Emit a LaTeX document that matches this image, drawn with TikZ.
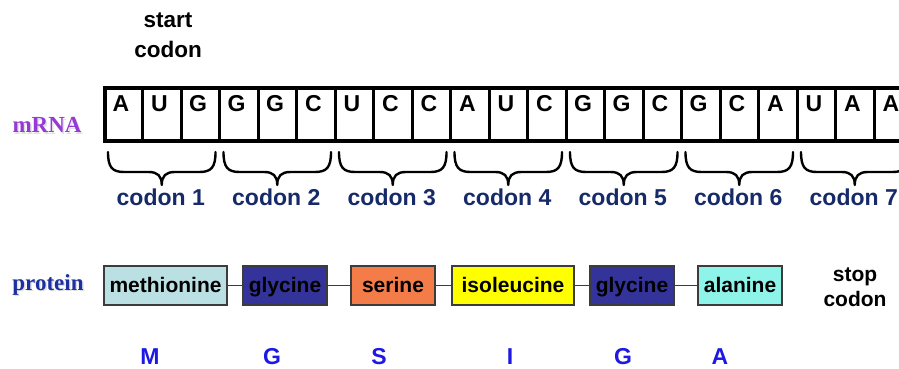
\documentclass[tikz,border=0pt]{standalone}
\usepackage{fontspec}
\setmainfont{Liberation Sans}
\newfontfamily\serifbold{Liberation Serif}
\definecolor{rnapurple}{RGB}{150,58,214}
\definecolor{protblue}{RGB}{28,48,160}
\definecolor{codonnavy}{RGB}{22,42,105}
\definecolor{letterblue}{RGB}{30,24,228}
\definecolor{boxedge}{RGB}{60,60,60}
\definecolor{metfill}{RGB}{186,224,228}
\definecolor{glyfill}{RGB}{51,51,153}
\definecolor{serfill}{RGB}{244,124,72}
\definecolor{ilefill}{RGB}{255,255,0}
\definecolor{alafill}{RGB}{142,244,234}
\tikzset{
  base/.style={font=\fontsize{23}{27}\selectfont\bfseries, inner sep=0pt},
  bigtext/.style={base, align=center, font=\fontsize{22.5}{30}\selectfont\bfseries},
  sidelabel/.style={inner sep=0pt, font=\fontsize{23}{27}\selectfont\serifbold\bfseries},
  codonlabel/.style={base, text=codonnavy},
  onecode/.style={base, text=letterblue},
  aabox/.style={draw=boxedge, line width=1.3pt, minimum height=39pt, inner sep=0pt,
    text height=17pt, text depth=4pt,
    font=\fontsize{21}{24}\selectfont\bfseries},
  link/.style={draw=boxedge, line width=1.2pt},
  bracepath/.style={line width=2.4pt, line cap=round, line join=round},
}
\begin{document}
\begin{tikzpicture}[x=1pt, y=-1pt]
\useasboundingbox (0,0) rectangle (899,368);
\clip (0,0) rectangle (899,368);

% start codon caption
\node[bigtext] (start) at (168,35) {start\\codon};

% side labels with a faint soft shadow
\node[sidelabel, text=black!12] at (48.5,126.5) {mRNA};
\node[sidelabel, text=rnapurple] (mrna) at (47,125) {mRNA};
\node[sidelabel, text=black!12] at (49.5,286) {protein};
\node[sidelabel, text=protblue] (protein) at (48,284.5) {protein};

% mRNA strip: outer frame and cell dividers
\draw[line width=4pt] (930,88) -- (105,88) -- (105,140.5) -- (930,140.5);
\foreach \k in {1,...,21} {
  \draw[line width=3pt] ({104+38.5*\k},88) -- ({104+38.5*\k},140.5);
}
% bases
\foreach \b [count=\i from 0] in {A,U,G,G,G,C,U,C,C,A,U,C,G,G,C,G,C,A,U,A,A} {
  \node[base, text height=17pt, text depth=0pt] (base\i) at ({104+38.5*\i+17},103) {\b};
}

% braces and codon labels
\foreach \k in {1,...,7} {
  \pgfmathsetmacro{\xa}{104+115.5*(\k-1)+4}
  \pgfmathsetmacro{\xb}{104+115.5*\k-4}
  \pgfmathsetmacro{\xm}{104+115.5*\k-57.75}
  \draw[bracepath] (\xa,152) .. controls (\xa,167) and (\xa+4,172) .. (\xa+16,172)
    -- (\xm-13,172) .. controls (\xm-4,172) and (\xm,176) .. (\xm,185)
    .. controls (\xm,176) and (\xm+4,172) .. (\xm+13,172)
    -- (\xb-16,172) .. controls (\xb-4,172) and (\xb,167) .. (\xb,152);
  \node[codonlabel] (codon\k) at (\xm-1,197) {codon \k};
}

% amino acid chain
\node[aabox, fill=metfill, minimum width=123pt] (met) at (165.5,285.5) {methionine};
\node[aabox, fill=glyfill, minimum width=84pt] (gly1) at (285,285.5) {glycine};
\node[aabox, fill=serfill, minimum width=84pt] (ser) at (393,285.5) {serine};
\node[aabox, fill=ilefill, minimum width=122pt] (ile) at (513,285.5) {isoleucine};
\node[aabox, fill=glyfill, minimum width=84pt] (gly2) at (632,285.5) {glycine};
\node[aabox, fill=alafill, minimum width=84pt] (ala) at (740,285.5) {alanine};
\node[bigtext, font=\fontsize{21}{25}\selectfont\bfseries] (stop) at (855,287.5) {stop\\codon};

\draw[link] (met) -- (gly1);
\draw[link] (gly1) -- (ser);
\draw[link] (ser) -- (ile);
\draw[link] (ile) -- (gly2);
\draw[link] (gly2) -- (ala);

% one-letter codes
\node[onecode] (lm) at (150,357) {M};
\node[onecode] (lg1) at (272,357) {G};
\node[onecode] (ls) at (379,357) {S};
\node[onecode] (li) at (510,357) {I};
\node[onecode] (lg2) at (623,357) {G};
\node[onecode] (la) at (720,357) {A};
\end{tikzpicture}
\end{document}
